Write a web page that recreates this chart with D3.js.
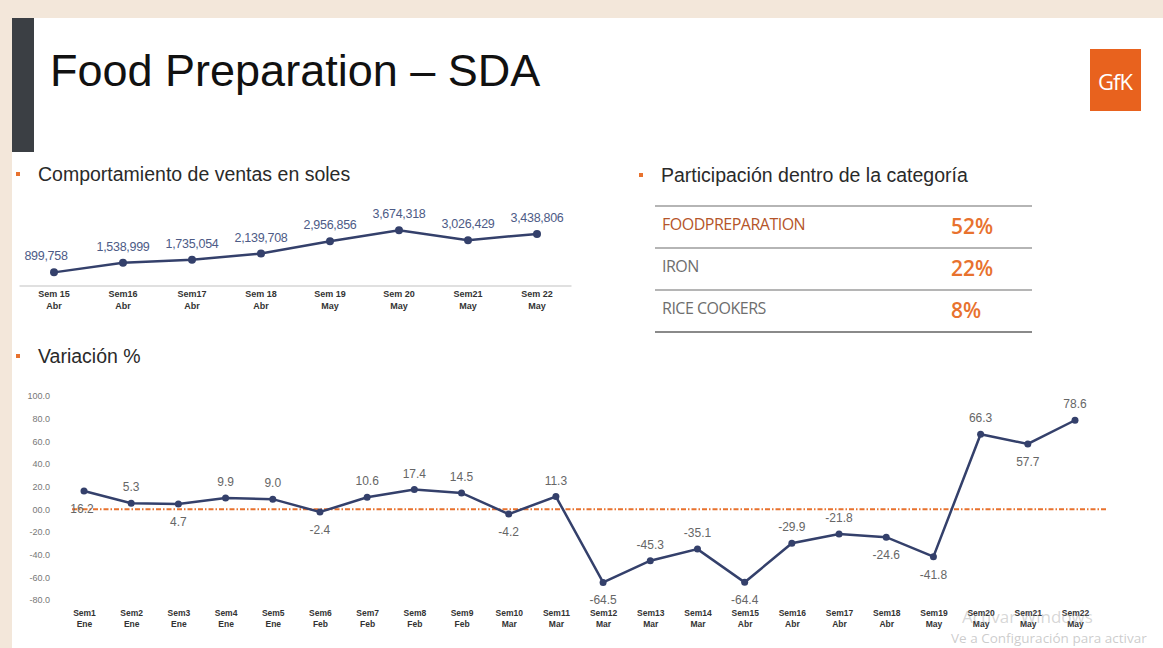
<!DOCTYPE html>
<html>
<head>
<meta charset="utf-8">
<script src="https://cdn.jsdelivr.net/npm/d3@7"></script>
<style>
  html, body { margin: 0; padding: 0; background: #f3e7da; }
  svg { display: block; }
</style>
</head>
<body>
<script>
// top chart: ventas en soles
var salesWeeks = ["Sem 15", "Sem16", "Sem17", "Sem 18", "Sem 19", "Sem 20", "Sem21", "Sem 22"];
var salesMonths = ["Abr", "Abr", "Abr", "Abr", "May", "May", "May", "May"];
var salesValues = [899758, 1538999, 1735054, 2139708, 2956856, 3674318, 3026429, 3438806];

// share table
var shareNames = ["FOODPREPARATION", "IRON", "RICE COOKERS"];
var shareValues = [52, 22, 8];

// bottom chart: variacion %
var varWeeks = ["Sem1", "Sem2", "Sem3", "Sem4", "Sem5", "Sem6", "Sem7", "Sem8", "Sem9", "Sem10", "Sem11",
    "Sem12", "Sem13", "Sem14", "Sem15", "Sem16", "Sem17", "Sem18", "Sem19", "Sem20", "Sem21", "Sem22"];
var varMonths = ["Ene", "Ene", "Ene", "Ene", "Ene", "Feb", "Feb", "Feb", "Feb", "Mar", "Mar",
    "Mar", "Mar", "Mar", "Abr", "Abr", "Abr", "Abr", "May", "May", "May", "May"];
var varValues = [16.2, 5.3, 4.7, 9.9, 9.0, -2.4, 10.6, 17.4, 14.5, -4.2, 11.3,
    -64.5, -45.3, -35.1, -64.4, -29.9, -21.8, -24.6, -41.8, 66.3, 57.7, 78.6];
var varTicks = [100, 80, 60, 40, 20, 0, -20, -40, -60, -80];
var varTickLabels = ["100.0", "80.0", "60.0", "40.0", "20.0", "00.0", "-20.0", "-40.0", "-60.0", "-80.0"];

var width = 1163, height = 648;
var sans = "'Liberation Sans', Arial, sans-serif";
var orange = "#e8722e";
var navy = "#34406b";

var svg = d3.select("body").append("svg")
    .attr("width", width)
    .attr("height", height);

// slide
svg.append("rect").attr("x", 12).attr("y", 18).attr("width", width - 12).attr("height", height - 18).attr("fill", "#ffffff");
svg.append("rect").attr("x", 12).attr("y", 18).attr("width", 22).attr("height", 134).attr("fill", "#3b3f44");

svg.append("text")
    .attr("x", 50).attr("y", 86)
    .style("font-family", sans).style("font-size", "45px").attr("fill", "#111")
    .text("Food Preparation \u2013 SDA");

// GfK logo
svg.append("rect").attr("x", 1090).attr("y", 49).attr("width", 51).attr("height", 62).attr("fill", "#e8621e");
svg.append("text").attr("x", 1115).attr("y", 90)
    .attr("text-anchor", "middle")
    .style("font-family", "'Open Sans', sans-serif").style("font-size", "22px")
    .style("letter-spacing", "-1px")
    .attr("fill", "#fff").text("GfK");

// section headings
function heading(x, y, txt) {
    svg.append("rect").attr("x", x - 22).attr("y", y - 9).attr("width", 4).attr("height", 4).attr("fill", orange);
    svg.append("text").attr("x", x).attr("y", y)
        .style("font-family", sans).style("font-size", "19.5px").attr("fill", "#2a2a2a")
        .text(txt);
}
heading(38, 181, "Comportamiento de ventas en soles");
heading(661, 182, "Participaci\u00f3n dentro de la categor\u00eda");
heading(38, 363, "Variaci\u00f3n %");

// ---------- top chart ----------
var xTop = d3.scaleBand().domain(salesWeeks).range([19.5, 571.5]);
var yTop = d3.scaleLinear().domain([0, 4000000]).range([286, 225.4]);
var fmtSoles = d3.format(",");

var gTop = svg.append("g");

gTop.append("line")
    .attr("x1", 19.5).attr("x2", 571.5).attr("y1", 286).attr("y2", 286)
    .attr("stroke", "#d6d6d6").attr("stroke-width", 1.5);

var topAxis = gTop.append("g")
    .attr("transform", "translate(0,286)")
    .call(d3.axisBottom(xTop).tickSize(0).tickPadding(8));
topAxis.select(".domain").remove();
topAxis.selectAll("text")
    .style("font-family", sans).style("font-size", "9px").style("font-weight", "bold")
    .attr("fill", "#333")
    .each(function(d, i) {
        var t = d3.select(this).text(null);
        t.append("tspan").attr("x", 0).attr("dy", "0.3em").text(d);
        t.append("tspan").attr("x", 0).attr("dy", "1.35em").text(salesMonths[i]);
    });

var topLine = d3.line()
    .x(function(d, i) { return xTop(salesWeeks[i]) + xTop.bandwidth() / 2; })
    .y(function(d) { return yTop(d); });

gTop.append("path")
    .datum(salesValues)
    .attr("d", topLine)
    .attr("fill", "none").attr("stroke", navy).attr("stroke-width", 2.5);

gTop.selectAll(".dotTop")
    .data(salesValues)
    .enter().append("circle")
    .attr("cx", function(d, i) { return xTop(salesWeeks[i]) + xTop.bandwidth() / 2; })
    .attr("cy", function(d) { return yTop(d); })
    .attr("r", 4).attr("fill", navy);

gTop.selectAll(".lblTop")
    .data(salesValues)
    .enter().append("text")
    .attr("x", function(d, i) { return xTop(salesWeeks[i]) + xTop.bandwidth() / 2 - (i == 0 ? 8 : 0); })
    .attr("y", function(d) { return yTop(d) - 12; })
    .attr("text-anchor", "middle")
    .style("font-family", sans).style("font-size", "12.5px").style("letter-spacing", "-0.3px")
    .attr("fill", "#4d5b86")
    .text(function(d) { return fmtSoles(d); });

// ---------- share table ----------
var tableRows = d3.range(shareNames.length + 1).map(function(i) { return 206 + i * 42; });
svg.selectAll(".tline")
    .data(tableRows)
    .enter().append("line")
    .attr("x1", 655).attr("x2", 1032)
    .attr("y1", function(d) { return d; }).attr("y2", function(d) { return d; })
    .attr("stroke", function(d, i) { return i == tableRows.length - 1 ? "#8a8a8a" : "#b5b5b5"; })
    .attr("stroke-width", 2);

svg.selectAll(".tname")
    .data(shareNames)
    .enter().append("text")
    .attr("x", 662)
    .attr("y", function(d, i) { return tableRows[i] + 24; })
    .style("font-family", "'Open Sans', sans-serif").style("font-size", "16px")
    .style("letter-spacing", "-0.5px")
    .attr("fill", function(d, i) { return i == 0 ? "#b5552a" : "#6e6e6e"; })
    .text(function(d) { return d; });

svg.selectAll(".tval")
    .data(shareValues)
    .enter().append("text")
    .attr("x", 951)
    .attr("y", function(d, i) { return tableRows[i] + 28; })
    .style("font-family", "'Open Sans', sans-serif").style("font-size", "21px").style("font-weight", "600")
    .attr("fill", orange)
    .text(function(d) { return d + "%"; });

// ---------- bottom chart ----------
var xBot = d3.scalePoint().domain(varWeeks).range([84, 1075]);
var yBot = d3.scaleLinear().domain([-80, 100]).range([600, 396]);
var belowLabels = [0, 2, 5, 9, 11, 14, 17, 18, 20];

var gBot = svg.append("g");

var yAxisBot = gBot.append("g")
    .attr("transform", "translate(52,0)")
    .call(d3.axisLeft(yBot).tickValues(varTicks).tickSize(0).tickPadding(2)
        .tickFormat(function(d, i) { return varTickLabels[i]; }));
yAxisBot.select(".domain").remove();
yAxisBot.selectAll("text")
    .style("font-family", sans).style("font-size", "9px").attr("fill", "#777");

// zero line
gBot.append("line")
    .attr("x1", 72).attr("x2", 1106)
    .attr("y1", yBot(0)).attr("y2", yBot(0))
    .attr("stroke", orange).attr("stroke-width", 2)
    .attr("stroke-dasharray", "5,2,1.5,2");

var xAxisBot = gBot.append("g")
    .attr("transform", "translate(0,600)")
    .call(d3.axisBottom(xBot).tickSize(0).tickPadding(13));
xAxisBot.select(".domain").remove();
xAxisBot.selectAll("text")
    .style("font-family", sans).style("font-size", "8.5px").style("font-weight", "bold")
    .attr("fill", "#333")
    .each(function(d, i) {
        var t = d3.select(this).text(null);
        t.append("tspan").attr("x", 0).attr("dy", "0.3em").text(d);
        t.append("tspan").attr("x", 0).attr("dy", "1.4em").text(varMonths[i]);
    });

var botLine = d3.line()
    .x(function(d, i) { return xBot(varWeeks[i]); })
    .y(function(d) { return yBot(d); });

gBot.append("path")
    .datum(varValues)
    .attr("d", botLine)
    .attr("fill", "none").attr("stroke", navy).attr("stroke-width", 2.5);

gBot.selectAll(".dotBot")
    .data(varValues)
    .enter().append("circle")
    .attr("cx", function(d, i) { return xBot(varWeeks[i]); })
    .attr("cy", function(d) { return yBot(d); })
    .attr("r", 3.5).attr("fill", navy);

gBot.selectAll(".lblBot")
    .data(varValues)
    .enter().append("text")
    .attr("x", function(d, i) { return xBot(varWeeks[i]) - (i == 0 ? 2 : 0); })
    .attr("y", function(d, i) { return yBot(d) + (belowLabels.indexOf(i) >= 0 ? 22 : -12); })
    .attr("text-anchor", "middle")
    .style("font-family", sans).style("font-size", "12px").attr("fill", "#666")
    .text(function(d) { return d.toFixed(1); });

// windows watermark (part of the screenshot)
svg.append("text").attr("x", 962).attr("y", 623)
    .style("font-family", "'Open Sans', sans-serif").style("font-size", "17px")
    .attr("fill", "#999").attr("fill-opacity", 0.4).text("Activar Windows");
svg.append("text").attr("x", 951).attr("y", 643)
    .style("font-family", "'Open Sans', sans-serif").style("font-size", "13.5px")
    .attr("fill", "#999").attr("fill-opacity", 0.5).text("Ve a Configuraci\u00f3n para activar");
</script>
</body>
</html>
